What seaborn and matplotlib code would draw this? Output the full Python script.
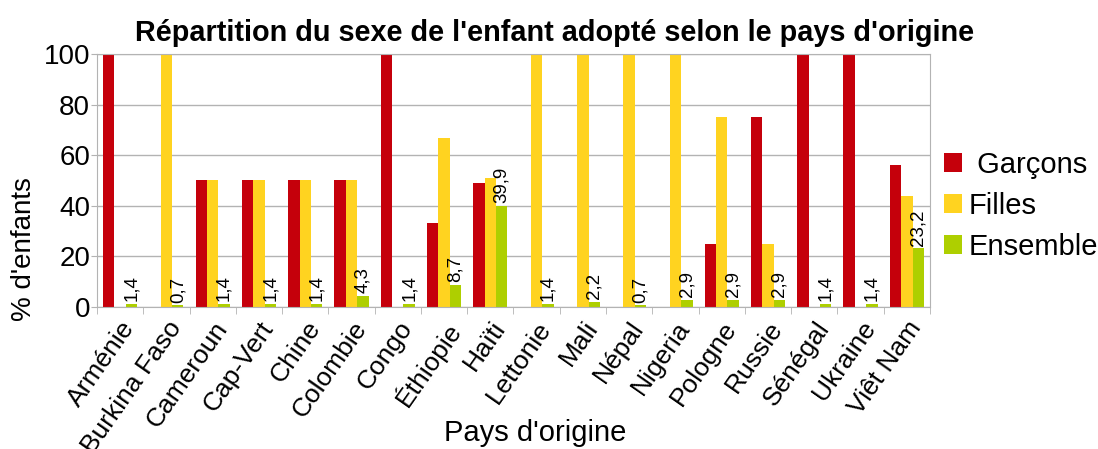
import pandas as pd
import seaborn as sns
import matplotlib.pyplot as plt

pays = ["Arménie", "Burkina Faso", "Cameroun", "Cap-Vert", "Chine", "Colombie",
        "Congo", "Éthiopie", "Haïti", "Lettonie", "Mali", "Népal", "Nigeria",
        "Pologne", "Russie", "Sénégal", "Ukraine", "Viêt Nam"]
garcons = [100, 0, 50, 50, 50, 50, 100, 33.3, 49.1, 0, 0, 0, 0, 25, 75, 100, 100, 56.3]
filles = [0, 100, 50, 50, 50, 50, 0, 66.7, 50.9, 100, 100, 100, 100, 75, 25, 0, 0, 43.7]
ensemble = [1.4, 0.7, 1.4, 1.4, 1.4, 4.3, 1.4, 8.7, 39.9, 1.4, 2.2, 0.7, 2.9, 2.9, 2.9, 1.4, 1.4, 23.2]
series = [" Garçons", "Filles", "Ensemble"]

df = pd.DataFrame({"pays": pays, series[0]: garcons, series[1]: filles, series[2]: ensemble})
long = df.melt(id_vars="pays", var_name="serie", value_name="pct")

sns.set_style("white")
plt.rcParams['font.family'] = ['Liberation Sans', 'DejaVu Sans']
plt.rcParams['text.color'] = 'black'
plt.rcParams['axes.labelcolor'] = 'black'

fig = plt.figure(figsize=(10.98, 4.49), dpi=100)
ax = fig.add_axes([0.0883, 0.316, 0.7587, 0.564])

couleurs = ["#C5000B", "#FFD320", "#AECF00"]
sns.barplot(data=long, x="pays", y="pct", hue="serie", palette=couleurs,
            width=0.74, ax=ax, saturation=1, linewidth=0)

# etiquettes de la serie Ensemble
cont = ax.containers[2]
ax.bar_label(cont, labels=[f"{v:.1f}".replace(".", ",") for v in ensemble],
             rotation=90, padding=2, fontsize=13.5)

ax.set_ylim(0, 100)
ax.set_xlim(-0.5, len(pays) - 0.5)
ax.set_yticks(range(0, 101, 20))
ax.yaxis.grid(True, color="#b3b3b3", linewidth=1)
ax.set_axisbelow(True)
for s in ax.spines.values():
    s.set_color("#b3b3b3")

ax.set_xticks([i for i in range(len(pays))])
ax.set_xticklabels(pays, rotation=55, ha="right", rotation_mode="anchor", fontsize=19)
ax.tick_params(axis="x", length=0, pad=7, labelcolor="black")
ax.tick_params(axis="y", labelsize=20, length=4, color="#b3b3b3", left=True,
               labelcolor="black", pad=1)
# petits traits entre les categories
ax.set_xticks([i + 0.5 for i in range(-1, len(pays))], minor=True)
ax.tick_params(axis="x", which="minor", length=5, color="#b3b3b3", bottom=True)

ax.set_xlabel("Pays d'origine", fontsize=21)
ax.xaxis.set_label_coords(0.526, -0.44)
ax.set_ylabel("% d'enfants", fontsize=20)
ax.yaxis.set_label_coords(-0.072, 0.23)

fig.suptitle("Répartition du sexe de l'enfant adopté selon le pays d'origine",
             x=0.505, y=0.958, va="top", fontsize=20.8, fontweight="bold")

ax.legend(loc="center left", bbox_to_anchor=(1.017, 0.40), frameon=False,
          fontsize=21, handlelength=0.6, handleheight=0.6, handletextpad=0.25,
          labelspacing=0.45, borderpad=0, borderaxespad=0)

fig.savefig("out.png", dpi=100)
